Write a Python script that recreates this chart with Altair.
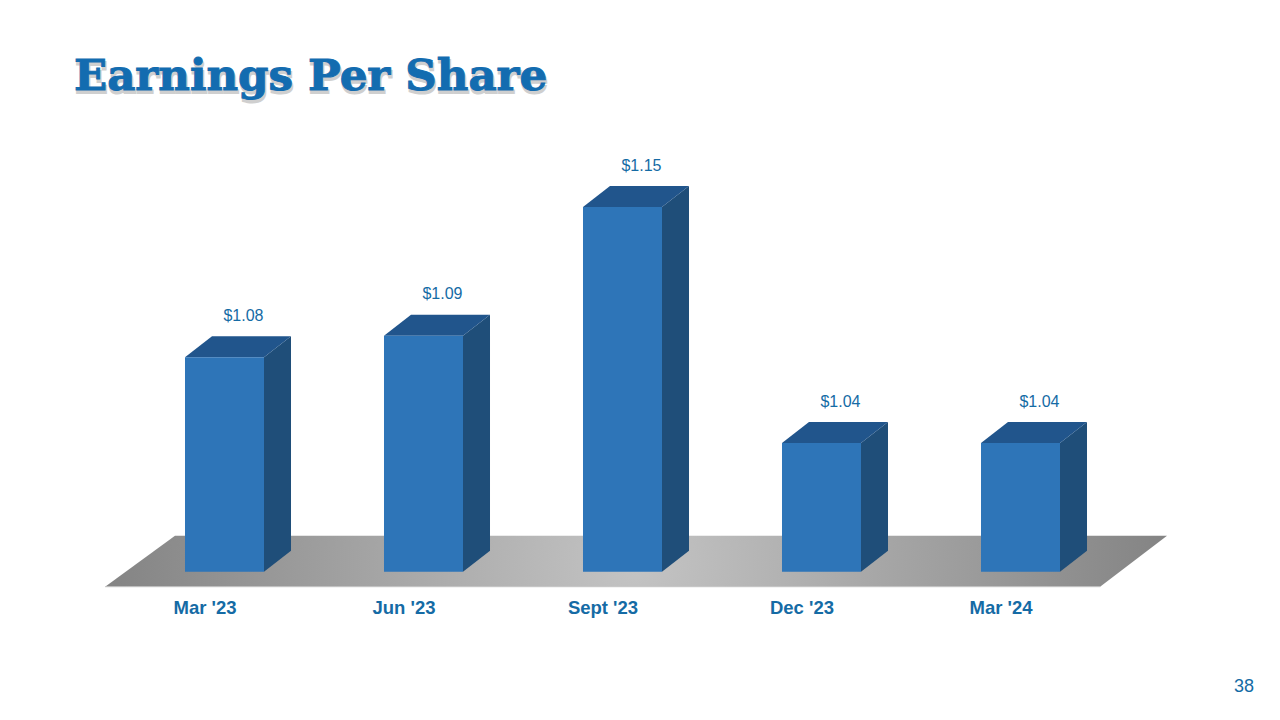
import altair as alt
import pandas as pd

title = "Earnings Per Share"
page_number = "38"
categories = ["Mar '23", "Jun '23", "Sept '23", "Dec '23", "Mar '24"]
eps = [1.08, 1.09, 1.15, 1.04, 1.04]
value_labels = ["$1.08", "$1.09", "$1.15", "$1.04", "$1.04"]

FRONT = "#2E75B8"
TOP = "#21558C"
SIDE = "#1F4E79"
INK = "#156BA5"

# data-space geometry of the pseudo-3D columns
base = 0.98
half_w = 0.1985
depth_x = 0.1357
depth_y = 0.0098
floor_front = 0.973
floor_back = 0.9968
category_label_y = 0.963

x_scale = alt.Scale(domain=[(8 - 224.5) / 199, (1272 - 224.5) / 199], nice=False, zero=False)
y_scale = alt.Scale(domain=[1.04 + (443 - 712) / 2145, 1.04 + (443 - 8) / 2145], nice=False, zero=False)

X = lambda f: alt.X(f, type="quantitative", scale=x_scale, axis=None)
Y = lambda f: alt.Y(f, type="quantitative", scale=y_scale, axis=None)

front = pd.DataFrame({
    "x0": [i - half_w for i in range(5)],
    "x1": [i + half_w for i in range(5)],
    "top": eps,
    "base": [base] * 5,
})

side_rows, top_rows = [], []
for i, v in enumerate(eps):
    r = i + half_w
    l = i - half_w
    side_rows += [
        {"bar": i, "x": r, "y": v, "y2": base},
        {"bar": i, "x": r + depth_x, "y": v + depth_y, "y2": base + depth_y},
    ]
    top_rows += [
        {"bar": i, "y": v, "x": l, "x2": r},
        {"bar": i, "y": v + depth_y, "x": l + depth_x, "x2": r + depth_x},
    ]
side = pd.DataFrame(side_rows)
tops = pd.DataFrame(top_rows)

floor = pd.DataFrame({
    "y": [floor_front, floor_back],
    "x": [-0.6, -0.2488],
    "x2": [4.4, 4.7362],
})

floor_fill = alt.RadialGradient(
    gradient="radial", x1=0.5, y1=0.5, r1=0, x2=0.5, y2=0.5, r2=0.56,
    stops=[alt.GradientStop(offset=0, color="#C4C4C4"),
           alt.GradientStop(offset=1, color="#7C7C7C")],
)

floor_layer = alt.Chart(floor).mark_area(orient="horizontal", color=floor_fill).encode(
    x=X("x"), x2="x2:Q", y=Y("y"),
)

floor_edge = alt.Chart(floor.iloc[[0]]).mark_rule(color="#C4C4C4", strokeWidth=1).encode(
    x=X("x"), x2="x2:Q", y=Y("y"),
)

side_layer = alt.Chart(side).mark_area(color=SIDE).encode(
    x=X("x"), y=Y("y"), y2="y2:Q", detail="bar:N",
)
top_layer = alt.Chart(tops).mark_area(orient="horizontal", color=TOP).encode(
    y=Y("y"), x=X("x"), x2="x2:Q", detail="bar:N",
)
front_layer = alt.Chart(front).mark_rect(color=FRONT).encode(
    x=X("x0"), x2="x1:Q", y=Y("top"), y2="base:Q",
)

labels = pd.DataFrame({
    "x": [i + 0.095 for i in range(5)],
    "y": [v + 0.0193 for v in eps],
    "t": value_labels,
})
label_layer = alt.Chart(labels).mark_text(
    font="Liberation Sans", fontSize=16, color=INK, baseline="middle", align="center",
).encode(x=X("x"), y=Y("y"), text="t:N")

cats = pd.DataFrame({
    "x": [i - 0.098 for i in range(5)],
    "y": [category_label_y] * 5,
    "t": categories,
})
category_layer = alt.Chart(cats).mark_text(
    font="Liberation Sans", fontSize=18.5, fontWeight="bold", color=INK, baseline="middle", align="center",
).encode(x=X("x"), y=Y("y"), text="t:N")

title_df = pd.DataFrame({"t": [title]})
title_shadow = alt.Chart(title_df).mark_text(
    font="DejaVu Serif", fontSize=43.5, fontWeight="bold", color="#8A8A8A", opacity=0.4,
    stroke="#8A8A8A", strokeWidth=2, align="left", baseline="alphabetic",
).encode(x=alt.value(67), y=alt.value(85), text="t:N")
title_layer = alt.Chart(title_df).mark_text(
    font="DejaVu Serif", fontSize=43.5, fontWeight="bold", color="#136CB0",
    stroke="#136CB0", strokeWidth=1, align="left", baseline="alphabetic",
).encode(x=alt.value(66), y=alt.value(82), text="t:N")

page_layer = alt.Chart(pd.DataFrame({"t": [page_number]})).mark_text(
    font="Liberation Sans", fontSize=18, color=INK, align="center", baseline="middle",
).encode(x=alt.value(1236), y=alt.value(679), text="t:N")

chart = alt.layer(
    floor_layer, floor_edge, side_layer, top_layer, front_layer,
    label_layer, category_layer, title_shadow, title_layer, page_layer,
).properties(
    width=1264, height=704, padding=0,
    autosize=alt.AutoSizeParams(type="none"), background="white",
).configure_view(stroke=None)

chart.save("out.html", embed_options={"renderer": "svg", "actions": False})
